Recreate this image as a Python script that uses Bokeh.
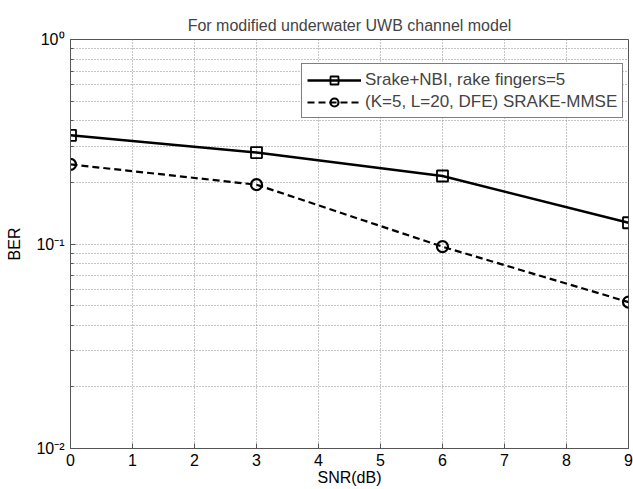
from bokeh.plotting import figure
from bokeh.models import FixedTicker, Legend, LegendItem
from bokeh.embed import file_html
from bokeh.resources import INLINE

# BER versus SNR for the two receivers
snr_db = [0, 3, 6, 9]
ber_srake_nbi = [0.34, 0.28, 0.215, 0.127]
ber_srake_mmse = [0.245, 0.195, 0.097, 0.052]

x_ticks = list(range(10))
y_major = [0.01, 0.1, 1.0]
y_minor = [k * 10.0 ** e for e in (-2, -1) for k in range(2, 10)]
y_labels = {0.01: "10\u207b\u00b2", 0.1: "10\u207b\u00b9", 1.0: "10\u2070"}

series_names = ["Srake+NBI, rake fingers=5", "(K=5, L=20, DFE) SRAKE-MMSE"]

FONT = "Liberation Sans"

p = figure(
    width=633, height=489,
    x_range=(0, 9), y_range=(0.01, 1.0),
    y_axis_type="log",
    output_backend="svg", toolbar_location=None,
    min_border_left=70, min_border_right=5,
    min_border_top=39, min_border_bottom=41,
    title="For modified underwater UWB channel model",
)
p.background_fill_color = "white"
p.border_fill_color = "white"
p.outline_line_color = "#555555"
p.outline_line_width = 1

p.title.align = "center"
p.title.text_font = FONT
p.title.text_font_size = "16px"
p.title.text_font_style = "normal"
p.title.offset = 0
p.title.standoff = 11

# ticks
p.xaxis.ticker = FixedTicker(ticks=x_ticks)
p.yaxis.ticker = FixedTicker(ticks=y_major, minor_ticks=y_minor)
p.yaxis.major_label_overrides = y_labels

for ax in (p.xaxis[0], p.yaxis[0]):
    ax.axis_line_color = "#555555"
    ax.major_tick_in = 5
    ax.major_tick_out = 0
    ax.minor_tick_in = 3
    ax.minor_tick_out = 0
    ax.major_tick_line_color = "#555555"
    ax.minor_tick_line_color = "#555555"
    ax.major_label_text_font = FONT
    ax.major_label_text_font_size = "16px"
    ax.major_label_text_color = "black"
    ax.axis_label_text_font = FONT
    ax.axis_label_text_font_size = "16px"
    ax.axis_label_text_font_style = "normal"
    ax.axis_label_text_color = "black"
p.xaxis.minor_tick_line_color = None
p.xaxis.major_label_standoff = 5
p.xaxis.axis_label_standoff = 0
p.yaxis.major_label_standoff = 6
p.yaxis.axis_label_standoff = 10
p.xaxis.axis_label = "SNR(dB)"
p.yaxis.axis_label = "BER"

# dotted grid
for g in (p.xgrid[0], p.ygrid[0]):
    g.grid_line_color = "#8c8c8c"
    g.grid_line_dash = "1 2"
    g.grid_line_width = 1
p.ygrid.minor_grid_line_color = "#8c8c8c"
p.ygrid.minor_grid_line_dash = "1 2"
p.ygrid.minor_grid_line_width = 1

# series
l1 = p.line(snr_db, ber_srake_nbi, line_color="black", line_width=2.5)
m1 = p.scatter(snr_db, ber_srake_nbi, marker="square", size=11,
               line_color="black", line_width=1.8, fill_color=None)
l2 = p.line(snr_db, ber_srake_mmse, line_color="black", line_width=2.2,
            line_dash="7 4")
m2 = p.scatter(snr_db, ber_srake_mmse, marker="circle", size=11,
               line_color="black", line_width=2.2, fill_color=None)

legend = Legend(
    items=[LegendItem(label=series_names[0], renderers=[l1, m1]),
           LegendItem(label=series_names[1], renderers=[l2, m2])],
    location=(231, 330),
    glyph_width=54, glyph_height=20, label_height=21,
    label_standoff=4, padding=5, spacing=1, margin=0,
    label_text_font=FONT, label_text_font_size="17px",
    border_line_color="black", border_line_width=1,
    background_fill_color="white", background_fill_alpha=1.0,
)
p.add_layout(legend, "center")

open("out.html", "w").write(file_html(p, INLINE))
